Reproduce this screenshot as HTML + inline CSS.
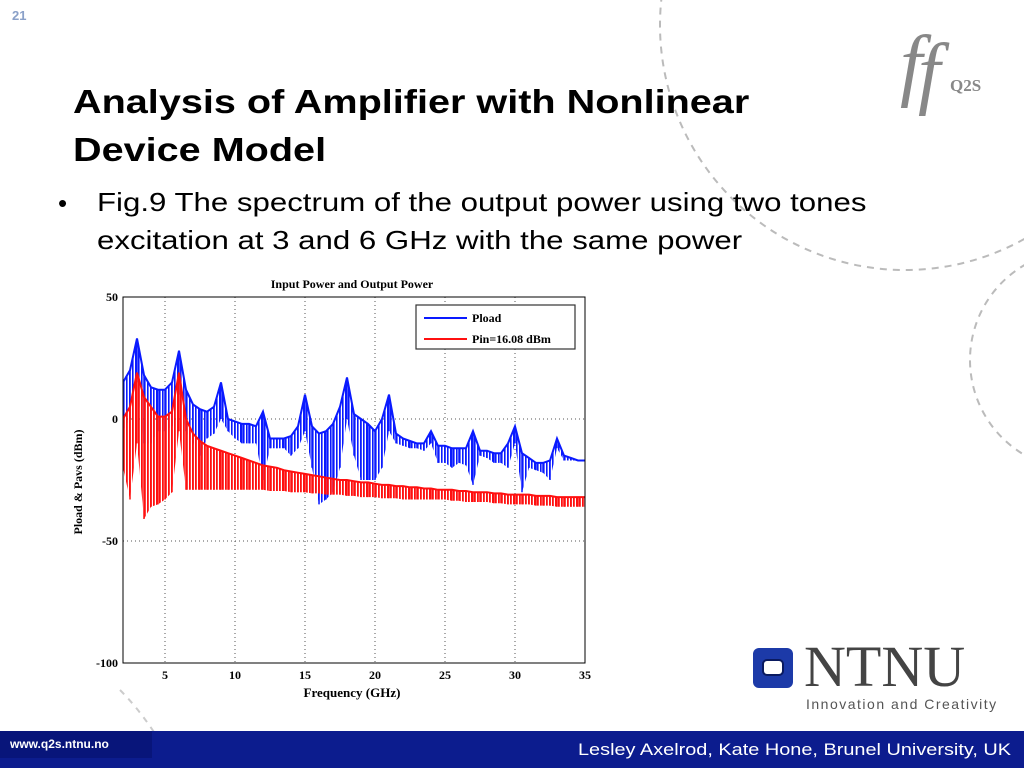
<!DOCTYPE html>
<html><head><meta charset="utf-8"><style>
body{margin:0;width:1024px;height:768px;position:relative;background:#fff;overflow:hidden;font-family:"Liberation Sans",sans-serif}
.t{position:absolute;white-space:nowrap}
</style></head><body>
<svg style="position:absolute;left:0;top:0" width="1024" height="768">
<circle cx="905" cy="25" r="245" fill="none" stroke="#bbb" stroke-width="2" stroke-dasharray="7,6"/>
<circle cx="1080" cy="360" r="110" fill="none" stroke="#bbb" stroke-width="2" stroke-dasharray="7,6"/>
<path d="M120 690 Q150 720 175 768" fill="none" stroke="#ccc" stroke-width="2" stroke-dasharray="6,6"/>
</svg>
<div class="t" style="left:12px;top:8px;font-size:13px;color:#8aa0c8;font-weight:bold">21</div>
<div class="t" style="left:73px;top:78px;font-size:33px;font-weight:bold;line-height:48px;color:#000;transform:scaleX(1.2);transform-origin:0 0">Analysis of Amplifier with Nonlinear<br>Device Model</div>
<div class="t" style="left:58px;top:184px;font-size:26px;line-height:38px">•</div>
<div class="t" style="left:97px;top:183px;font-size:26px;line-height:38px;color:#000;transform:scaleX(1.2);transform-origin:0 0">Fig.9 The spectrum of the output power using two tones<br>excitation at 3 and 6 GHz with the same power</div>
<div>
<div class="t" style="left:900px;top:20px;font-family:'Liberation Serif',serif;font-style:italic;font-size:80px;color:#888">f</div>
<div class="t" style="left:918px;top:28px;font-family:'Liberation Serif',serif;font-style:italic;font-size:80px;color:#888">f</div>
<div class="t" style="left:950px;top:76px;font-family:'Liberation Serif',serif;font-weight:bold;font-size:17px;color:#888">Q2S</div>
</div>
<div>
<div style="position:absolute;left:753px;top:648px;width:40px;height:40px;background:#1c3aa8;border-radius:6px"></div>
<div style="position:absolute;left:762px;top:659px;width:22px;height:17px;background:#fff;border-radius:5px;border:2px solid #0a1a60;box-sizing:border-box"></div>
<div class="t" style="left:804px;top:637px;font-family:'Liberation Serif',serif;font-size:58px;color:#444;line-height:60px">NTNU</div>
<div class="t" style="left:806px;top:696px;font-size:14px;color:#555;letter-spacing:1.5px">Innovation and Creativity</div>
</div>
<div style="position:absolute;left:0;top:731px;width:1024px;height:37px;background:#0c1c8e"></div>
<div style="position:absolute;left:0;top:731px;width:152px;height:27px;background:#08157a;color:#fff;font-size:12px;font-weight:bold;line-height:26px;padding-left:10px;box-sizing:border-box">www.q2s.ntnu.no</div>
<div class="t" style="left:578px;top:740px;font-size:17px;color:#fff;transform:scaleX(1.17);transform-origin:0 0">Lesley Axelrod, Kate Hone, Brunel University, UK</div>
<svg id="chart" style="position:absolute;left:0;top:0" width="1024" height="768">
<defs>
<pattern id="hb" width="3" height="10" patternUnits="userSpaceOnUse"><rect x="0" y="0" width="1.6" height="10" fill="#0a1aff"/></pattern>
<pattern id="hr" width="3" height="10" patternUnits="userSpaceOnUse"><rect x="0" y="0" width="1.8" height="10" fill="#ff1010"/></pattern>
</defs>
</svg>
<script>
const freqs=[2,2.5,3,3.5,4,4.5,5,5.5,6,6.5,7,7.5,8,8.5,9,9.5,10,10.5,11,11.5,12,12.5,13,13.5,14,14.5,15,15.5,16,16.5,17,17.5,18,18.5,19,19.5,20,20.5,21,21.5,22,22.5,23,23.5,24,24.5,25,25.5,26,26.5,27,27.5,28,28.5,29,29.5,30,30.5,31,31.5,32,32.5,33,33.5,34,34.5,35];
const ploadTop=[15,20,33,18,13,12,12,15,28,12,6,4,3,5,15,0,-1,-2,-2,-3,3,-8,-8,-8,-7,-3,10,-3,-6,-5,-2,5,17,2,0,-2,-5,0,10,-6,-8,-9,-10,-10,-5,-11,-11,-12,-12,-12,-5,-13,-13,-14,-14,-10,-3,-14,-16,-18,-18,-17,-8,-15,-16,-17,-17];
const ploadDip=[-5,0,15,-10,-10,-5,-5,-3,10,-5,-10,-15,-8,-6,0,-5,-8,-10,-10,-10,-25,-12,-12,-12,-15,-12,-5,-20,-35,-33,-30,-20,0,-15,-25,-25,-25,-20,-5,-10,-11,-12,-12,-13,-10,-18,-18,-20,-18,-19,-27,-15,-16,-18,-18,-20,-10,-30,-20,-21,-22,-25,-12,-17,-17,-17,-17];
const pinTop=[0,5,19,9,5,1,1,3,19,0,-6,-9,-11,-12,-13,-14,-15,-16,-17,-18,-19,-19.5,-20,-21,-21.5,-22,-22.5,-23,-23.5,-24,-24.5,-25,-25,-25.5,-26,-26,-26.5,-27,-27,-27.5,-27.5,-28,-28,-28.5,-28.5,-29,-29,-29,-29.5,-29.5,-30,-30,-30,-30.5,-30.5,-31,-31,-31,-31,-31.5,-31.5,-31.5,-32,-32,-32,-32,-32];
const pinDip=[-20,-33,-10,-41,-36,-35,-33,-30,-5,-29,-29,-29,-29,-29,-29,-29,-29,-29,-29,-29,-29,-29.5,-29.5,-29.5,-30,-30,-30,-30.5,-30.5,-31,-31,-31,-31.5,-31.5,-32,-32,-32,-32.5,-32.5,-32.5,-33,-33,-33,-33,-33,-33,-33,-33.5,-33.5,-34,-34,-34,-34,-34.5,-34.5,-35,-35,-35,-35,-35.5,-35.5,-35.5,-36,-36,-36,-36,-36];
const xTicks=[5,10,15,20,25,30,35];
const yTicks=[50,0,-50,-100];
const L=123,R=585,T=297,B=663,XMIN=2,XMAX=35,YMIN=-100,YMAX=50;
const sx=v=>L+(v-XMIN)/(XMAX-XMIN)*(R-L);
const sy=v=>B-(v-YMIN)/(YMAX-YMIN)*(B-T);
const svg=document.getElementById('chart');const NS='http://www.w3.org/2000/svg';
function mk(tag,attrs,parent){const e=document.createElementNS(NS,tag);for(const k in attrs)e.setAttribute(k,attrs[k]);(parent||svg).appendChild(e);return e;}
const bg=mk('rect',{x:L,y:T,width:R-L,height:B-T,fill:'#fff'});


xTicks.forEach(v=>{
 const g=mk('line',{x1:sx(v),x2:sx(v),y1:T,y2:B,stroke:'#555','stroke-dasharray':'1,3','stroke-width':1});
 
 
 const t=mk('text',{x:sx(v),y:B+16,'text-anchor':'middle','font-family':'Liberation Serif,serif','font-weight':'bold','font-size':12});
 t.textContent=v;
 
 
});
yTicks.forEach(v=>{
 const g=mk('line',{x1:L,x2:R,y1:sy(v),y2:sy(v),stroke:'#555','stroke-dasharray':'1,3','stroke-width':1});
 
 
 const t=mk('text',{x:L-5,y:sy(v)+4,'text-anchor':'end','font-family':'Liberation Serif,serif','font-weight':'bold','font-size':12});
 t.textContent=v;
 
 
});
const clip=mk('clipPath',{id:'pc'});mk('rect',{x:L,y:T,width:R-L,height:B-T},clip);
function series(top,dip,color,pat,name){
 const g=mk('g',{'clip-path':'url(#pc)'});
 
 
 let up='',dn='';
 freqs.forEach((f,i)=>{up+=(i?'L':'M')+sx(f).toFixed(1)+' '+sy(top[i]).toFixed(1);});
 for(let i=freqs.length-1;i>=0;i--){dn+='L'+sx(freqs[i]).toFixed(1)+' '+sy(dip[i]).toFixed(1);}
 mk('path',{d:up+dn+'Z',fill:'url(#'+pat+')',stroke:'none'},g);
 let v='';
 freqs.forEach((f,i)=>{v+='M'+sx(f).toFixed(1)+' '+sy(top[i]).toFixed(1)+'L'+sx(f).toFixed(1)+' '+sy(dip[i]).toFixed(1);});
 mk('path',{d:v,stroke:color,'stroke-width':1.5,fill:'none'},g);
 mk('path',{d:up,stroke:color,'stroke-width':2,fill:'none'},g);
}
series(ploadTop,ploadDip,'#0a1aff','hb','pload-line');
series(pinTop,pinDip,'#ff1010','hr','pin-line');
const fr=mk('rect',{x:L,y:T,width:R-L,height:B-T,fill:'none',stroke:'#000','stroke-width':1});


const ti=mk('text',{x:352,y:288,'text-anchor':'middle','font-family':'Liberation Serif,serif','font-weight':'bold','font-size':12});
ti.textContent='Input Power and Output Power';


const xl=mk('text',{x:352,y:697,'text-anchor':'middle','font-family':'Liberation Serif,serif','font-weight':'bold','font-size':13});
xl.textContent='Frequency (GHz)';


const yl=mk('text',{x:0,y:0,transform:'translate(82,482) rotate(-90)','text-anchor':'middle','font-family':'Liberation Serif,serif','font-weight':'bold','font-size':12});
yl.textContent='Pload & Pavs (dBm)';


const lg=mk('g',{});


mk('rect',{x:416,y:305,width:159,height:44,fill:'#fff',stroke:'#333','stroke-width':1.2},lg);
mk('line',{x1:424,x2:467,y1:318,y2:318,stroke:'#0a1aff','stroke-width':2},lg);
mk('line',{x1:424,x2:467,y1:339,y2:339,stroke:'#ff1010','stroke-width':2},lg);
const l1=mk('text',{x:472,y:322,'font-family':'Liberation Serif,serif','font-weight':'bold','font-size':12},lg);l1.textContent='Pload';


const l2=mk('text',{x:472,y:343,'font-family':'Liberation Serif,serif','font-weight':'bold','font-size':12},lg);l2.textContent='Pin=16.08 dBm';


</script>
</body></html>
